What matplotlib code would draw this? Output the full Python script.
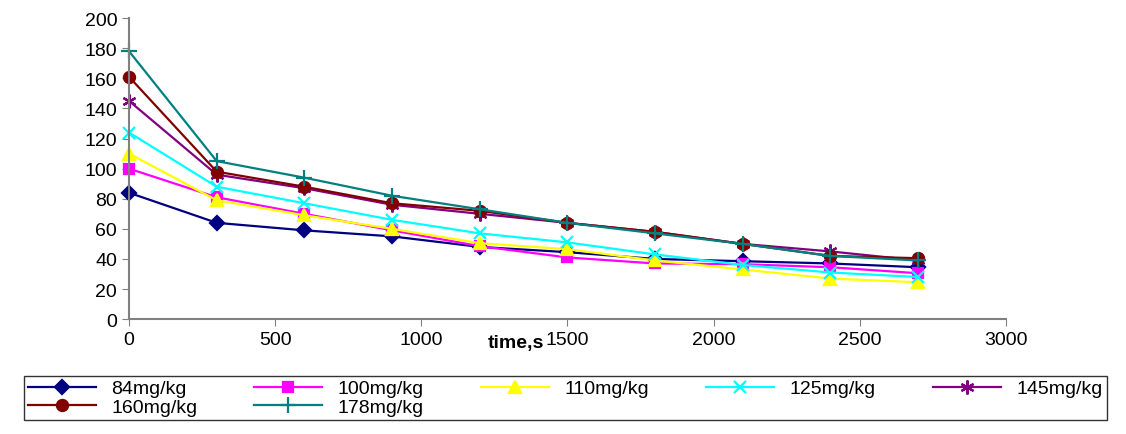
import matplotlib
matplotlib.use("Agg")
import matplotlib.pyplot as plt

plt.rcParams['font.family'] = ['Liberation Sans', 'DejaVu Sans']

t = [0, 300, 600, 900, 1200, 1500, 1800, 2100, 2400, 2700]
s84 = [84, 64, 59, 55, 48, 44.5, 40, 38.5, 37, 34.5]
s100 = [100, 81, 70, 59, 48.5, 41, 37, 36.5, 34.5, 30.5]
s110 = [110, 79, 69, 60, 50.5, 46.5, 39, 33, 27, 24.5]
s125 = [124, 88, 77, 66, 57, 51, 43, 36, 31, 28]
s145 = [145, 96, 87, 76, 70, 64, 58, 50, 45, 39]
s160 = [161, 98, 88, 77, 72, 64, 58, 50, 42, 40.5]
s178 = [178, 105, 94, 82, 73, 64, 57, 50, 42, 39]
labels = ["84mg/kg", "100mg/kg", "110mg/kg", "125mg/kg", "145mg/kg", "160mg/kg", "178mg/kg"]

series = [s84, s100, s110, s125, s145, s160, s178]
colors = ["#000080", "#FF00FF", "#FFFF00", "#00FFFF", "#800080", "#800000", "#008080"]
markers = ["D", "s", "^", "x", (6, 2, 0), "o", "+"]
msizes = [7, 7, 9, 9, 10, 8, 11]

fig = plt.figure(figsize=(11.26, 4.35), dpi=100)
ax = fig.add_axes([0.1146, 0.264, 0.7786, 0.692])
handles = []
for ys, c, m, ms, lab in zip(series, colors, markers, msizes, labels):
    h, = ax.plot(t, ys, color=c, marker=m, markersize=ms, lw=1.6,
                 markeredgewidth=1.6, label=lab, clip_on=False)
    handles.append(h)
ax.set_xlim(0, 3000)
ax.set_ylim(0, 200)
ax.set_xticks(range(0, 3001, 500))
ax.set_yticks(range(0, 201, 20))
for s in ["top", "right"]:
    ax.spines[s].set_visible(False)
for s in ["left", "bottom"]:
    ax.spines[s].set_color("#808080")
    ax.spines[s].set_linewidth(1.5)
ax.tick_params(labelsize=14, direction="out", length=5, color="#808080")
fig.text(0.458, 0.2, "time,s", fontsize=14, fontweight="bold", ha="center")
order = [0, 5, 1, 6, 2, 3, 4]
leg = fig.legend(handles=[handles[i] for i in order], ncol=5, loc="lower left",
                 bbox_to_anchor=(0.0125, 0.01, 0.979, 0.14), mode="expand",
                 fontsize=14, frameon=True, fancybox=False, edgecolor="black",
                 handlelength=3.5, borderpad=0.2, labelspacing=0.05)
leg.get_frame().set_linewidth(1)
fig.savefig("out.png", dpi=100)
